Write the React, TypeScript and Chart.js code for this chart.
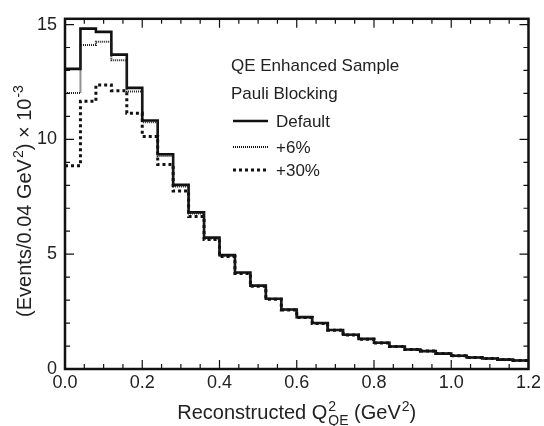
import React, { useEffect, useRef } from 'react';
import { Chart, registerables } from 'chart.js';

Chart.register(...registerables);

// ---------------- data ----------------
const binWidth = 0.04;
const binLowEdges = [
  0.0, 0.04, 0.08, 0.12, 0.16, 0.2, 0.24, 0.28, 0.32, 0.36,
  0.4, 0.44, 0.48, 0.52, 0.56, 0.6, 0.64, 0.68, 0.72, 0.76,
  0.8, 0.84, 0.88, 0.92, 0.96, 1.0, 1.04, 1.08, 1.12, 1.16,
];
const defaultValues = [
  13.07, 14.82, 14.68, 13.69, 12.24, 10.82, 9.35, 8.02, 6.82, 5.72,
  4.96, 4.2, 3.63, 3.06, 2.59, 2.26, 2.0, 1.7, 1.49, 1.31,
  1.14, 0.98, 0.85, 0.78, 0.67, 0.58, 0.5, 0.46, 0.41, 0.37,
];
const plus6Values = [
  12.02, 14.11, 14.25, 13.44, 12.08, 10.74, 9.27, 7.95, 6.77, 5.68,
  4.93, 4.18, 3.61, 3.05, 2.58, 2.25, 1.99, 1.7, 1.49, 1.31,
  1.14, 0.98, 0.85, 0.78, 0.67, 0.58, 0.5, 0.46, 0.41, 0.37,
];
const plus30Values = [
  8.85, 11.66, 12.37, 12.12, 11.14, 10.13, 8.9, 7.75, 6.64, 5.64,
  4.9, 4.16, 3.6, 3.04, 2.57, 2.24, 1.98, 1.69, 1.48, 1.3,
  1.13, 0.98, 0.85, 0.78, 0.67, 0.58, 0.5, 0.46, 0.41, 0.37,
];
const seriesLabels = ['Default', '+6%', '+30%'];
const legendHeader = ['QE Enhanced Sample', 'Pauli Blocking'];
const xMajorTicks = [0, 0.2, 0.4, 0.6, 0.8, 1.0, 1.2];
const yMajorTicks = [0, 5, 10, 15];
const xMinorStep = 0.05;
const yMinorStep = 1;

// ---------------- styling ----------------
const FONT = "'Liberation Sans', Helvetica, Arial, sans-serif";
const TXT = '#222';

function histPoints(values: number[]) {
  const pts = binLowEdges.map((x, i) => ({ x, y: values[i] }));
  pts.push({ x: binLowEdges[binLowEdges.length - 1] + binWidth, y: values[values.length - 1] });
  return pts;
}

type Part = { t: string; sup?: string; sub?: string };

function drawRich(ctx: CanvasRenderingContext2D, parts: Part[], cx: number, baseline: number, size: number, small: number) {
  const big = `${size}px ${FONT}`;
  const sm = `${small}px ${FONT}`;
  const widths = parts.map((p) => {
    ctx.font = big;
    const w = ctx.measureText(p.t).width;
    ctx.font = sm;
    const ws = p.sup ? ctx.measureText(p.sup).width : 0;
    const wb = p.sub ? ctx.measureText(p.sub).width : 0;
    return w + Math.max(ws, wb) + (p.sup || p.sub ? 1 : 0);
  });
  const total = widths.reduce((a, b) => a + b, 0);
  let x = cx - total / 2;
  ctx.textAlign = 'left';
  ctx.textBaseline = 'alphabetic';
  parts.forEach((p, i) => {
    ctx.font = big;
    ctx.fillText(p.t, x, baseline);
    const w = ctx.measureText(p.t).width;
    ctx.font = sm;
    if (p.sup) ctx.fillText(p.sup, x + w + 1, baseline - size * 0.42);
    if (p.sub) ctx.fillText(p.sub, x + w + 1, baseline + size * 0.3);
    x += widths[i];
  });
}

const decorPlugin = {
  id: 'decor',
  afterDatasetsDraw(chart: any) {
    const ctx: CanvasRenderingContext2D = chart.ctx;
    const { left, right, top, bottom } = chart.chartArea;
    const xs = chart.scales.x;
    const ys = chart.scales.y;
    ctx.save();
    ctx.strokeStyle = '#111';
    ctx.lineCap = 'butt';
    // ticks
    ctx.lineWidth = 1.2;
    const nX = Math.round((xs.max - xs.min) / xMinorStep);
    for (let i = 0; i <= nX; i++) {
      const v = xs.min + i * xMinorStep;
      const px = xs.getPixelForValue(v);
      const major = xMajorTicks.some((t) => Math.abs(t - v) < 1e-6);
      const len = major ? 9 : 5;
      ctx.beginPath();
      ctx.moveTo(px, bottom);
      ctx.lineTo(px, bottom - len);
      ctx.moveTo(px, top);
      ctx.lineTo(px, top + len);
      ctx.stroke();
    }
    const nY = Math.floor((ys.max - ys.min) / yMinorStep + 1e-6);
    for (let i = 0; i <= nY; i++) {
      const v = ys.min + i * yMinorStep;
      const py = ys.getPixelForValue(v);
      const major = yMajorTicks.some((t) => Math.abs(t - v) < 1e-6);
      const len = major ? 9 : 5;
      ctx.beginPath();
      ctx.moveTo(left, py);
      ctx.lineTo(left + len, py);
      ctx.moveTo(right, py);
      ctx.lineTo(right - len, py);
      ctx.stroke();
    }
    // frame
    ctx.lineWidth = 2.5;
    ctx.strokeRect(left, top, right - left, bottom - top);

    // legend
    ctx.fillStyle = TXT;
    ctx.font = `17px ${FONT}`;
    ctx.textAlign = 'left';
    ctx.textBaseline = 'middle';
    ctx.fillText(legendHeader[0], 231, 66);
    ctx.fillText(legendHeader[1], 231, 94);
    const rows = [
      { y: 121, dash: [] as number[], w: 2.5 },
      { y: 147, dash: [1, 1], w: 2 },
      { y: 170, dash: [3, 3], w: 3 },
    ];
    rows.forEach((r, i) => {
      ctx.beginPath();
      ctx.setLineDash(r.dash);
      ctx.lineWidth = r.w;
      ctx.strokeStyle = '#111';
      ctx.moveTo(233, r.y);
      ctx.lineTo(268, r.y);
      ctx.stroke();
      ctx.setLineDash([]);
      ctx.fillText(seriesLabels[i], 276, r.y + 1);
    });

    // axis titles
    ctx.fillStyle = TXT;
    drawRich(ctx, [
      { t: 'Reconstructed Q', sup: '2', sub: 'QE' },
      { t: ' (GeV', sup: '2' },
      { t: ')' },
    ], (left + right) / 2, 419, 20, 14);

    ctx.save();
    ctx.translate(31, 201);
    ctx.rotate(-Math.PI / 2);
    drawRich(ctx, [
      { t: '(Events/0.04 GeV', sup: '2' },
      { t: ') \u00d7 10', sup: '-3' },
    ], 0, 0, 20, 14);
    ctx.restore();

    ctx.restore();
  },
};

export default function App() {
  const ref = useRef<HTMLCanvasElement | null>(null);
  useEffect(() => {
    if (!ref.current) return;
    Chart.defaults.font.family = FONT;
    Chart.defaults.color = TXT;
    const chart = new Chart(ref.current, {
      type: 'line',
      data: {
        datasets: [
          {
            label: seriesLabels[2],
            data: histPoints(plus30Values),
            stepped: true,
            borderColor: '#111',
            borderWidth: 3,
            borderDash: [3, 3],
            pointRadius: 0,
            fill: false,
          },
          {
            label: seriesLabels[1],
            data: histPoints(plus6Values),
            stepped: true,
            borderColor: '#222',
            borderWidth: 2,
            borderDash: [1, 1],
            pointRadius: 0,
            fill: false,
          },
          {
            label: seriesLabels[0],
            data: histPoints(defaultValues),
            stepped: true,
            borderColor: '#111',
            borderWidth: 2.6,
            pointRadius: 0,
            fill: false,
          },
        ],
      },
      options: {
        responsive: false,
        animation: false,
        events: [],
        layout: { autoPadding: false, padding: { left: 0, right: 13, top: 12, bottom: 0 } },
        plugins: { legend: { display: false }, tooltip: { enabled: false } },
        scales: {
          x: {
            type: 'linear',
            min: 0,
            max: 1.2,
            grid: { display: false, drawTicks: false },
            border: { display: false },
            afterFit: (s: any) => { s.height = 57; },
            afterBuildTicks: (s: any) => { s.ticks = xMajorTicks.map((v) => ({ value: v })); },
            ticks: {
              font: { size: 18, family: FONT },
              color: TXT,
              padding: 3,
              maxRotation: 0,
              autoSkip: false,
              callback: (v: any) => Number(v).toFixed(1),
            },
          },
          y: {
            type: 'linear',
            min: 0,
            max: 15.25,
            grid: { display: false, drawTicks: false },
            border: { display: false },
            afterFit: (s: any) => { s.width = 65; },
            afterBuildTicks: (s: any) => { s.ticks = yMajorTicks.map((v) => ({ value: v })); },
            ticks: {
              font: { size: 18, family: FONT },
              color: TXT,
              padding: 8,
              autoSkip: false,
              callback: (v: any) => String(v),
            },
          },
        },
      },
      plugins: [decorPlugin],
    } as any);
    return () => chart.destroy();
  }, []);
  return (
    <div style={{ position: 'absolute', left: 0, top: 0, width: 544, height: 426, background: '#fff' }}>
      <canvas ref={ref} width={544} height={426} style={{ display: 'block' }} />
    </div>
  );
}
